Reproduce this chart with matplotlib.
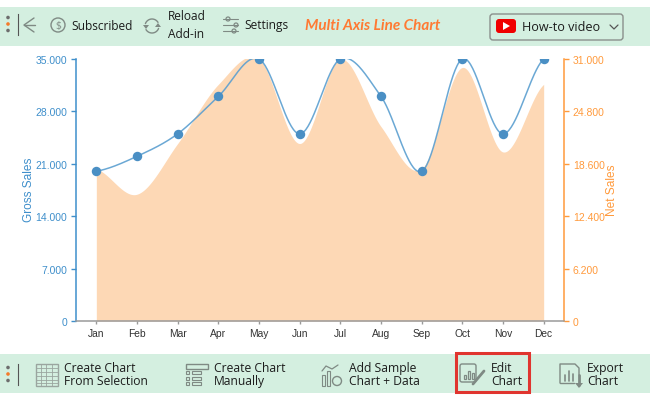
import numpy as np
import matplotlib
matplotlib.use("Agg")
import matplotlib.pyplot as plt
from matplotlib.patches import Rectangle, Circle, FancyBboxPatch, Polygon

# =========================
# DATA
# =========================
months = ["Jan", "Feb", "Mar", "Apr", "May", "Jun", "Jul", "Aug", "Sep", "Oct", "Nov", "Dec"]
gross_sales = [20000, 22000, 25000, 30000, 35000, 25000, 35000, 30000, 20000, 35000, 25000, 35000]
net_sales = [18000, 15000, 21000, 28000, 31000, 21000, 31000, 23000, 18000, 30000, 20000, 28000]
gross_ticks = [0, 7000, 14000, 21000, 28000, 35000]
gross_tick_labels = ["0", "7.000", "14.000", "21.000", "28.000", "35.000"]
net_ticks = [0, 6200, 12400, 18600, 24800, 31000]
net_tick_labels = ["0", "6.200", "12.400", "18.600", "24.800", "31.000"]

BLUE = "#3f8fcb"
ORANGE = "#ff9a3c"
GREEN = "#d4efe0"
ICON = "#7f8a84"
UI_FONT = ["Open Sans", "DejaVu Sans"]
W, H = 650, 402


def cardinal(values, n=40):
    # Catmull-Rom through the points, end tangents as in d3 curveCardinal
    y = np.asarray(values, dtype=float)
    pts = np.concatenate([[y[0]], y, [y[-1]]])
    xs, ys = [], []
    for i in range(len(y) - 1):
        t = np.linspace(0, 1, n)
        p0, p1, p2, p3 = pts[i], pts[i + 1], pts[i + 2], pts[i + 3]
        m1 = (p2 - p0) / 2
        m2 = (p3 - p1) / 2
        ys.append((2*t**3 - 3*t**2 + 1)*p1 + (t**3 - 2*t**2 + t)*m1
                  + (-2*t**3 + 3*t**2)*p2 + (t**3 - t**2)*m2)
        xs.append(i + t)
    return np.concatenate(xs), np.concatenate(ys)


plt.rcParams["font.family"] = ["Liberation Sans", "DejaVu Sans"]
fig = plt.figure(figsize=(W / 100, H / 100), dpi=100)

# =========================
# TOOLBARS (pixel coordinates)
# =========================
ui = fig.add_axes([0, 0, 1, 1])
ui.set_xlim(0, W)
ui.set_ylim(H, 0)
ui.axis("off")

ui.add_patch(Rectangle((0, 8), W, 39, color=GREEN, lw=0))
ui.add_patch(Rectangle((0, 355), W, 39, color=GREEN, lw=0))


def label(x, y, s, **kw):
    kw.setdefault("fontsize", 8.6)
    kw.setdefault("color", "#1c1c1c")
    kw.setdefault("family", UI_FONT)
    ui.text(x, y, s, va="center", ha="left", **kw)


def dots(y):
    for dy, c in zip((-6.5, 0, 6.5), ("#6d6d6d", "#f47a2a", "#6d6d6d")):
        ui.add_patch(Circle((8, y + dy), 1.8, color=c, lw=0))
    ui.plot([17.5, 17.5], [y - 10, y + 11], color="#555555", lw=0.8)


def line(xs, ys, lw=1.0, color=ICON):
    ui.plot(xs, ys, color=color, lw=lw, solid_capstyle="round")


def box(x, y, w, h, lw=1.0, color=ICON):
    ui.add_patch(Rectangle((x, y), w, h, fill=False, ec=color, lw=lw))


# top bar
dots(25)
line([34, 24, 34], [19, 26, 33])
line([24, 35], [26, 26])
ui.add_patch(Circle((58, 26), 7, fill=False, ec=ICON, lw=1.0))
ui.text(58, 26, "$", fontsize=7.5, color=ICON, ha="center", va="center", family=UI_FONT)
label(71, 26, "Subscribed")
a = np.linspace(0.35, 2.6, 30)
line(152 + 7 * np.cos(a), 27 + 7 * np.sin(a))
line(152 + 7 * np.cos(a + np.pi), 27 + 7 * np.sin(a + np.pi))
ui.add_patch(Polygon([[143, 26], [149, 26], [146, 30]], color=ICON, lw=0))
ui.add_patch(Polygon([[155, 28], [161, 28], [158, 24]], color=ICON, lw=0))
label(168, 17, "Reload")
label(168, 35, "Add-in")
for y, cx in ((20, 228), (26, 236), (32, 234)):
    line([223, 238], [y, y], lw=0.8)
    ui.add_patch(Circle((cx, y), 2, fc=GREEN, ec=ICON, lw=0.9))
label(244, 26, "Settings")
ui.text(305, 26, "Multi Axis Line Chart", fontsize=11, color="#ff7a33", style="italic",
        weight="bold", va="center", ha="left", family=["Lato", "DejaVu Sans"])
ui.add_patch(FancyBboxPatch((490, 15), 133, 26, boxstyle="round,pad=0,rounding_size=3",
                            fc=GREEN, ec="#8a8f8c", lw=1.0))
ui.add_patch(FancyBboxPatch((496, 20), 20, 14, boxstyle="round,pad=0,rounding_size=3",
                            fc="#f00000", ec="none"))
ui.add_patch(Polygon([[503, 23], [503, 31], [510, 27]], color="white", lw=0))
label(522, 27.5, "How-to video", fontsize=9.1)
line([610, 614, 618], [26, 30, 26], color="#555555", lw=0.9)

# bottom bar
dots(375)
box(36, 365, 22, 22, color="#9aa59f")
for y in (369, 373, 377, 381, 384):
    line([36, 58], [y, y], lw=0.6, color="#9aa59f")
for x in (41, 46, 52):
    line([x, x], [365, 387], lw=0.6, color="#9aa59f")
label(64, 369, "Create Chart", fontsize=8.7)
label(64, 382, "From Selection", fontsize=8.7)
box(186, 365, 22, 5)
for y in (373, 379, 384):
    box(186, y - 1.5, 3, 3, lw=0.8)
    box(192, y - 1.5, 9, 3, lw=0.8)
label(214, 369, "Create Chart", fontsize=8.7)
label(214, 382, "Manually", fontsize=8.7)
line([322, 326, 332, 338], [372, 367, 370, 366], lw=0.9)
for x, top in ((322, 376), (327, 372)):
    box(x, top, 3, 387 - top, lw=0.8)
ui.add_patch(Circle((337, 382), 4.5, fc=GREEN, ec=ICON, lw=1))
label(349, 369, "Add Sample", fontsize=8.7)
label(349, 382, "Chart + Data", fontsize=8.7)
ui.add_patch(Rectangle((456, 354), 73, 39, fill=False, ec="#e0352f", lw=2.2))
ui.add_patch(FancyBboxPatch((460, 365), 16, 18, boxstyle="round,pad=0,rounding_size=2",
                            fill=False, ec=ICON, lw=1.0))
for x, top in ((464, 376), (468, 372), (472, 374)):
    box(x, top, 2, 380 - top, lw=0.9)
line([473, 484], [385, 372], lw=2.0)
label(491, 369, "Edit", fontsize=8.7)
label(491, 382, "Chart", fontsize=8.7)
line([560, 560, 575, 579, 579], [384, 365, 365, 369, 376])
line([560, 574], [384, 384])
for x, top in ((565, 376), (569, 372), (573, 375)):
    line([x, x], [top, 382], lw=1.2)
line([579, 579], [376, 386], lw=2)
ui.add_patch(Polygon([[575, 384], [583, 384], [579, 389]], color=ICON, lw=0))
label(587, 369, "Export", fontsize=8.7)
label(587, 382, "Chart", fontsize=8.7)

# =========================
# CHART
# =========================
rect = [76 / W, 1 - 322 / H, (564 - 76) / W, (322 - 60) / H]
ax = fig.add_axes(rect)
ax.patch.set_alpha(0)
ax2 = ax.twinx()
ax.set_zorder(3)
ax2.set_zorder(2)
ax2.patch.set_alpha(0)

ax.set_xlim(-0.5, 11.5)
ax.set_ylim(0, 35000)
ax2.set_ylim(0, 31000)

x_net, y_net = cardinal(net_sales)
ax2.fill_between(x_net, 0, y_net, color="#fdd8b5", lw=0)

x_gross, y_gross = cardinal(gross_sales)
ax.plot(x_gross, y_gross, color="#5b9fd0", lw=1.1, alpha=0.9)
ax.plot(range(len(months)), gross_sales, "o", color="#4a8fc4", ms=6.8, mew=0)

ax.set_xticks(range(len(months)))
ax.set_xticklabels(months)
ax.set_yticks(gross_ticks)
ax.set_yticklabels(gross_tick_labels)
ax2.set_yticks(net_ticks)
ax2.set_yticklabels(net_tick_labels)

ax.tick_params(axis="x", length=2.2, width=1, color="#9a9a9a", labelcolor="#333333", labelsize=7.4, pad=2.5)
ax.tick_params(axis="y", length=3.8, width=1, color=BLUE, labelcolor=BLUE, labelsize=7.5, pad=2.5)
ax2.tick_params(axis="y", length=3.8, width=1, color=ORANGE, labelcolor=ORANGE, labelsize=7.5, pad=2.5)

for a_ in (ax, ax2):
    a_.spines["top"].set_visible(False)
    a_.spines["left"].set_visible(False)
    a_.spines["right"].set_visible(False)
    a_.spines["bottom"].set_visible(False)
ax.spines["left"].set_visible(True)
ax.spines["left"].set_color(BLUE)
ax.spines["left"].set_linewidth(1.1)
ax.spines["bottom"].set_visible(True)
ax.spines["bottom"].set_color("#9a9a9a")
ax.spines["bottom"].set_linewidth(1.1)
ax2.spines["right"].set_visible(True)
ax2.spines["right"].set_color(ORANGE)
ax2.spines["right"].set_linewidth(1.1)

ui.text(29, 190, "Gross Sales", rotation=90, color=BLUE, fontsize=8.6, ha="center", va="center")
ui.text(612, 190, "Net Sales", rotation=90, color=ORANGE, fontsize=8.6, ha="center", va="center")

fig.savefig("out.png", dpi=100)
